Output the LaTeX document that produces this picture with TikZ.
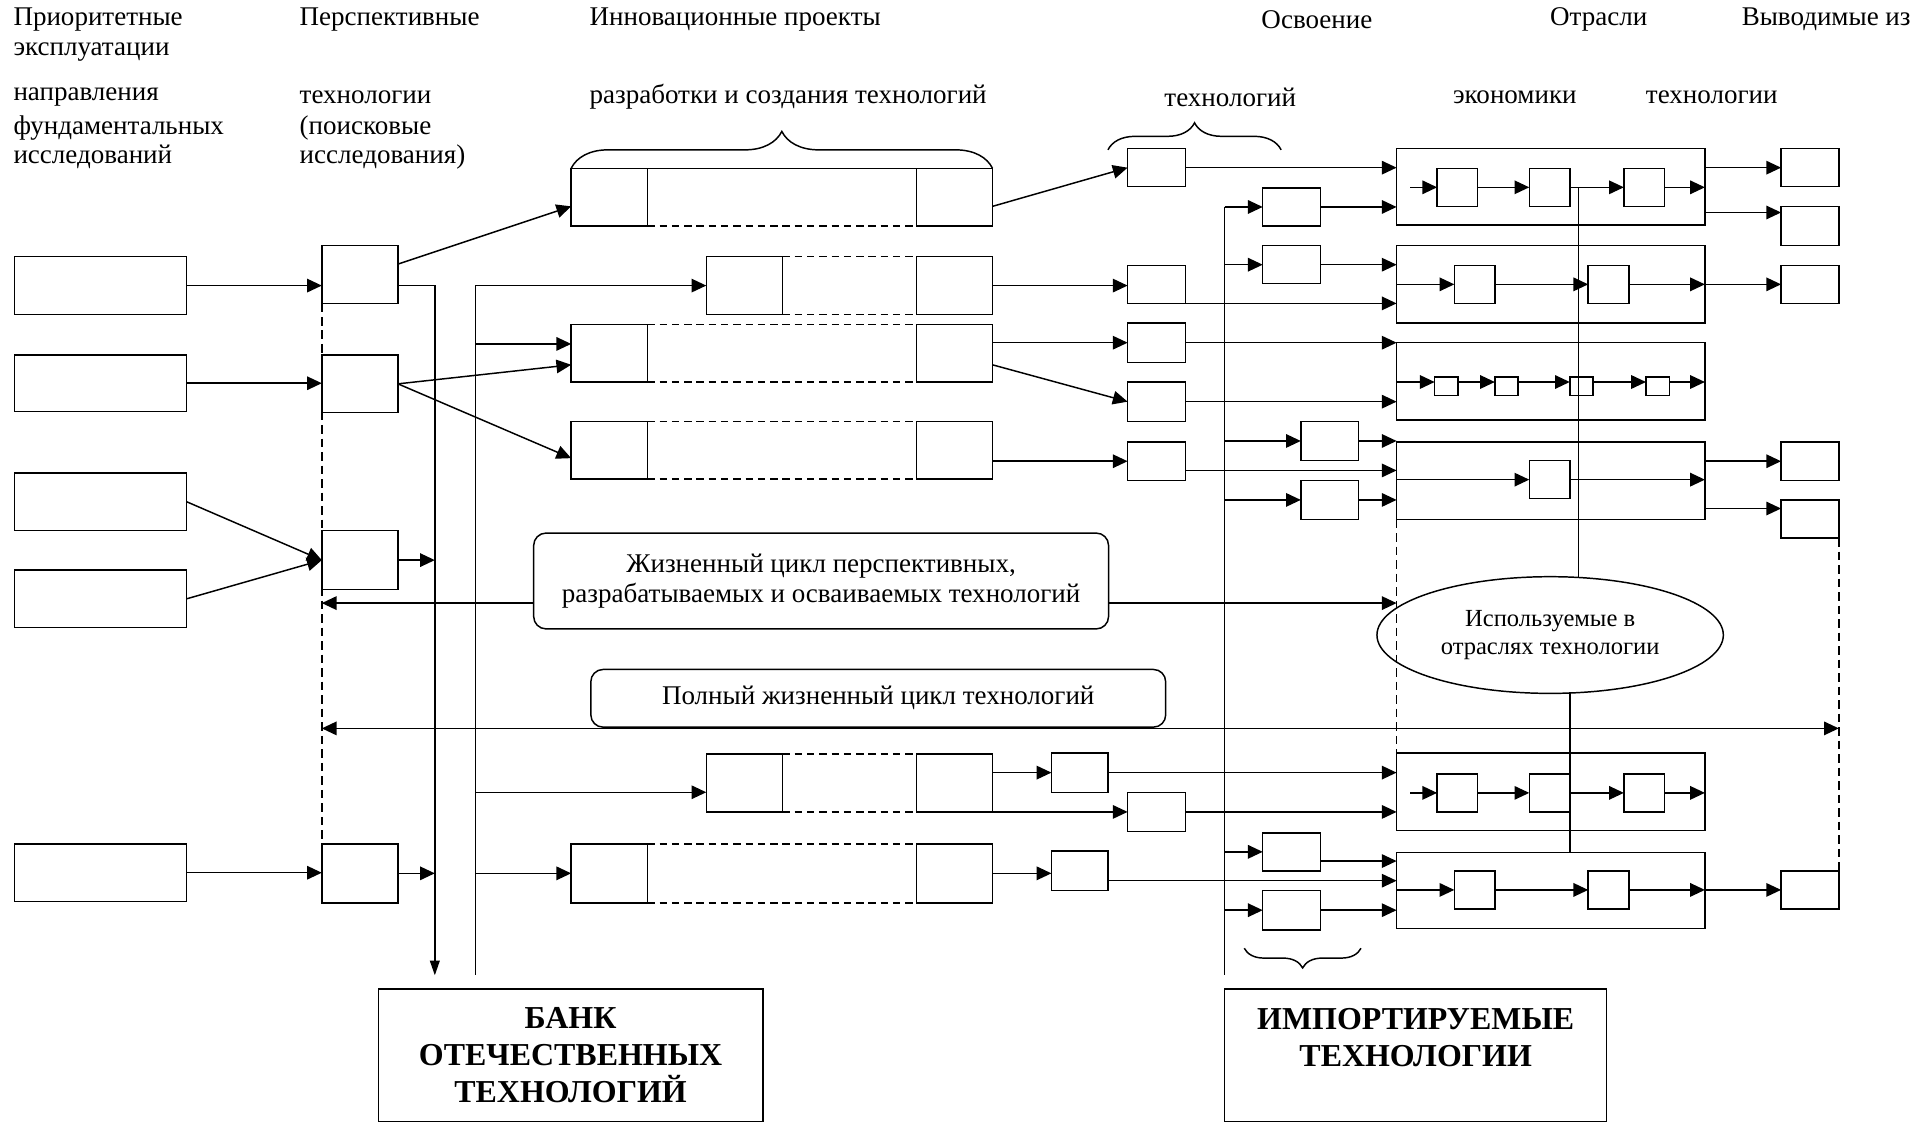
\documentclass[tikz,border=0pt]{standalone}
\usepackage{fontspec}
\setmainfont{Liberation Serif}
\usetikzlibrary{arrows.meta,decorations.pathreplacing,shapes.geometric}
\newcommand\bx[5]{\node[bx,minimum width={(#4-#2)*0.5pt},minimum height={(#5-#3)*0.5pt}] (#1) at ({(#2+#4)/2},{(#3+#5)/2}) {};}
\begin{document}
\begin{tikzpicture}[x=0.5pt,y=-0.5pt,
  every node/.style={inner sep=0pt,outer sep=0pt},
  bx/.style={draw,line width=0.6pt},
  ln/.style={line width=0.6pt},
  arr/.style={ln,-{Triangle[length=6pt,width=5.5pt]}},
  dsh/.style={ln,dash pattern=on 3pt off 2pt},
  dshv/.style={ln,dash pattern=on 3.5pt off 2pt},
  hd/.style={anchor=west,font=\fontsize{11}{13}\selectfont},
  rbox/.style={draw,line width=0.6pt,rounded corners=5pt,align=center,font=\fontsize{11}{12.5}\selectfont},
  bigbox/.style={draw,line width=0.6pt},
  bigtxt/.style={align=center,font=\fontsize{13}{15}\selectfont\bfseries},
  brc/.style={ln,decorate,decoration={brace,amplitude=#1}},
]
\useasboundingbox (0,0) rectangle (1568,914);

% headers
\node[hd] (t1) at (11,16) {Приоритетные};
\node[hd] (t2) at (11,42) {эксплуатации};
\node[hd] (t3) at (11,79) {направления};
\node[hd] (t4) at (11,104) {фундаментальных};
\node[hd] (t5) at (11,128) {исследований};
\node[hd] (t6) at (244,16) {Перспективные};
\node[hd] (t7) at (244,79) {технологии};
\node[hd] (t8) at (244,104) {(поисковые};
\node[hd] (t9) at (244,128) {исследования)};
\node[hd] (t10) at (480,16) {Инновационные проекты};
\node[hd] (t11) at (480,79) {разработки и создания технологий};
\node[hd] (t12) at (1027,16) {Освоение};
\node[hd] (t13) at (948,79) {технологий};
\node[hd] (t14) at (1262,16) {Отрасли};
\node[hd] (t15) at (1183,79) {экономики};
\node[hd] (t16) at (1418,16) {Выводимые из};
\node[hd] (t17) at (1340,79) {технологии};

% left boxes
\bx{L1}{12}{209}{152}{256}
\bx{L2}{12}{289}{152}{335}
\bx{L3}{12}{385}{152}{432}
\bx{L4}{12}{464}{152}{511}
\bx{L5}{12}{687}{152}{734}
% perspective
\bx{P1}{262}{200}{324}{247}
\bx{P2}{262}{289}{324}{336}
\bx{P3}{262}{432}{324}{480}
\bx{P4}{262}{687}{324}{735}
\draw[dshv] (P1.south west) -- (P4.north west);

\draw[arr] (L1.east) -- (P1.west |- L1.east);
\draw[arr] (L2.east) -- (P2.west |- L2.east);
\draw[arr] (L3.east) -- (P3.west);
\draw[arr] (L4.east) -- (P3.west);
\draw[arr] (L5.east) -- (P4.west |- L5.east);

% bank lines
\coordinate (bk1) at (354,794);
\coordinate (bk2t) at (387,232.5);
\coordinate (bk2) at (387,794);
\draw[ln,-{Triangle[length=6pt,width=4pt]}] (P1.east |- L1.east) -| (bk1);
\draw[arr] (P3.east) -- (P3.east -| bk1);
\draw[arr] (P4.east) -- (P4.east -| bk1);
\draw[ln] (bk2t) -- (bk2);

% innovation projects
\bx{I1a}{465}{137}{527}{184} \bx{I1b}{746}{137}{808}{184}
\draw[ln] (I1a.north east) -- (I1b.north west);
\draw[dsh] (I1a.south east) -- (I1b.south west);
\draw[brc=15pt] (I1a.north west) -- (I1b.north east);
\bx{Iaa}{575}{209}{637}{256} \bx{Iab}{746}{209}{808}{256}
\draw[dsh] (Iaa.north east) -- (Iab.north west);
\draw[dsh] (Iaa.south east) -- (Iab.south west);
\bx{I2a}{465}{264}{527}{311} \bx{I2b}{746}{264}{808}{311}
\draw[dsh] (I2a.north east) -- (I2b.north west);
\draw[dsh] (I2a.south east) -- (I2b.south west);
\bx{I3a}{465}{343}{527}{390} \bx{I3b}{746}{343}{808}{390}
\draw[dsh] (I3a.north east) -- (I3b.north west);
\draw[dsh] (I3a.south east) -- (I3b.south west);
\bx{I5a}{575}{614}{637}{661} \bx{I5b}{746}{614}{808}{661}
\draw[dsh] (I5a.north east) -- (I5b.north west);
\draw[dsh] (I5a.south east) -- (I5b.south west);
\bx{I6a}{465}{687}{527}{735} \bx{I6b}{746}{687}{808}{735}
\draw[dsh] (I6a.north east) -- (I6b.north west);
\draw[dsh] (I6a.south east) -- (I6b.south west);

\draw[arr] ([yshift=4.25pt]P1.east) -- ([yshift=-3.75pt]I1a.west);
\draw[arr] (bk2t) -- (Iaa.west |- bk2t);
\coordinate (v1) at (387,280);
\draw[arr] (v1) -- (I2a.west |- v1);
\draw[arr] (P2.east) -- ([yshift=-4.75pt]I2a.west);
\draw[arr] (P2.east) -- ([yshift=-3.25pt]I3a.west);
\coordinate (v2) at (387,645);
\draw[arr] (v2) -- (I5a.west |- v2);
\coordinate (v3) at (387,711);
\draw[arr] (v3) -- (I6a.west |- v3);

% mastering boxes
\bx{M1}{918}{121}{965}{152}
\bx{M2}{918}{216}{965}{247}
\bx{M3}{918}{263}{965}{295}
\bx{M4}{918}{311}{965}{343}
\bx{M5}{918}{360}{965}{391}
\bx{M6}{918}{645}{965}{677}
\bx{N1}{856}{613}{902}{645}
\bx{N2}{856}{693}{902}{725}
\coordinate (ob1) at (902,122); \coordinate (ob2) at (1043,122);
\draw[brc=11pt] (ob1) -- (ob2);

\draw[arr] ([yshift=-3.75pt]I1b.east) -- (M1.west);
\draw[arr] (Iab.east) -- (M2.west |- Iab.east);
\draw[arr] (I2b.east |- M3.west) -- (M3.west);
\draw[arr] ([yshift=-4.75pt]I2b.east) -- (M4.west);
\draw[arr] (I3b.east |- M5.west) -- (M5.west);
\draw[arr] (I5b.east |- N1.west) -- (N1.west);
\draw[arr] (I5b.south east) -- (M6.west |- I5b.south east);
\draw[arr] (I6b.east) -- (N2.west |- I6b.east);

% import line
\coordinate (imt) at (997,168.5);
\coordinate (imb) at (997,794);
\draw[ln] (imt) -- (imb);
\bx{K1}{1028}{153}{1075}{184}
\bx{K2}{1028}{200}{1075}{231}
\bx{K3}{1059}{343}{1106}{375}
\bx{K4}{1059}{391}{1106}{423}
\bx{K5}{1028}{678}{1075}{709}
\bx{K6}{1028}{725}{1075}{757}
\draw[arr] (imt) -- (K1.west);
\draw[arr] (K2.west -| imt) -- (K2.west);
\draw[arr] (K3.west -| imt) -- (K3.west);
\draw[arr] (K4.west -| imt) -- (K4.west);
\draw[arr] (K5.west -| imt) -- (K5.west);
\draw[arr] (K6.west -| imt) -- (K6.west);
\coordinate (bb1) at (1108,772); \coordinate (bb2) at (1013,772);
\draw[brc=8pt] (bb1) -- (bb2);

% sectors
\bx{S1}{1137}{121}{1388}{183}
\bx{S2}{1137}{200}{1388}{263}
\bx{S3}{1137}{279}{1388}{342}
\bx{S4}{1137}{360}{1388}{423}
\bx{S5}{1137}{613}{1388}{676}
\bx{S6}{1137}{694}{1388}{756}

\draw[arr] (M1.east) -- (S1.west |- M1.east);
\draw[arr] (K1.east) -- (S1.west |- K1.east);
\draw[arr] (K2.east) -- (S2.west |- K2.east);
\draw[arr] (M2.south east) -- (S2.west |- M2.south east);
\draw[arr] (M3.east) -- (S3.west |- M3.east);
\draw[arr] (M4.east) -- (S3.west |- M4.east);
\draw[arr] (K3.east) -- (S4.west |- K3.east);
\coordinate (m5o) at ([yshift=-3.75pt]M5.east);
\draw[arr] (m5o) -- (S4.west |- m5o);
\draw[arr] (K4.east) -- (S4.west |- K4.east);
\draw[arr] (N1.east) -- (S5.west |- N1.east);
\draw[arr] (M6.east) -- (S5.west |- M6.east);
\coordinate (k5o) at ([yshift=-3.75pt]K5.east);
\draw[arr] (k5o) -- (S6.west |- k5o);
\coordinate (n2o) at ([yshift=-4pt]N2.east);
\draw[arr] (n2o) -- (S6.west |- n2o);
\draw[arr] (K6.east) -- (S6.west |- K6.east);

% internals S1
\bx{B1}{1170}{137}{1203}{168}
\bx{B2}{1245}{137}{1278}{168}
\bx{B3}{1322}{137}{1355}{168}
\coordinate (s1i) at (1148,152.5);
\draw[arr] (s1i) -- (B1.west);
\draw[arr] (B1.east) -- (B2.west);
\draw[arr] (B2.east) -- (B3.west);
\draw[arr] (B3.east) -- (S1.east |- B3.east);
% S2
\bx{C1}{1184}{216}{1217}{247}
\bx{C2}{1293}{216}{1326}{247}
\draw[arr] (S2.west |- C1.west) -- (C1.west);
\draw[arr] (C1.east) -- (C2.west);
\draw[arr] (C2.east) -- (S2.east |- C2.east);
% S3
\bx{D1}{1168}{307}{1187}{322}
\bx{D2}{1217}{307}{1236}{322}
\bx{D3}{1278}{307}{1297}{322}
\bx{D4}{1340}{307}{1359}{322}
\coordinate (drow) at (1137,311);
\draw[arr] (drow) -- (D1.west |- drow);
\draw[arr] (D1.east |- drow) -- (D2.west |- drow);
\draw[arr] (D2.east |- drow) -- (D3.west |- drow);
\draw[arr] (D3.east |- drow) -- (D4.west |- drow);
\draw[arr] (D4.east |- drow) -- (S3.east |- drow);
% S4
\bx{F1}{1245}{375}{1278}{406}
\draw[arr] (S4.west |- F1.west) -- (F1.west);
\draw[arr] (F1.east) -- (S4.east |- F1.east);
% S5
\bx{G1}{1170}{630}{1203}{661}
\bx{G2}{1245}{630}{1278}{661}
\bx{G3}{1322}{630}{1355}{661}
\coordinate (s5i) at (1148,645.5);
\draw[arr] (s5i) -- (G1.west);
\draw[arr] (G1.east) -- (G2.west);
\draw[arr] (G2.east) -- (G3.west);
\draw[arr] (G3.east) -- (S5.east |- G3.east);
% S6
\bx{H1}{1184}{709}{1217}{740}
\bx{H2}{1293}{709}{1326}{740}
\draw[arr] (S6.west |- H1.west) -- (H1.west);
\draw[arr] (H1.east) -- (H2.west);
\draw[arr] (H2.east) -- (S6.east |- H2.east);

% outputs
\bx{E1}{1450}{121}{1497}{152}
\bx{E2}{1450}{168}{1497}{200}
\bx{E3}{1450}{216}{1497}{247}
\bx{E4}{1450}{360}{1497}{391}
\bx{E5}{1450}{407}{1497}{438}
\bx{E6}{1450}{709}{1497}{740}
\draw[arr] (S1.east |- E1.west) -- (E1.west);
\coordinate (e2i) at (1388,173);
\draw[arr] (e2i) -- (E2.west |- e2i);
\draw[arr] (S2.east |- E3.west) -- (E3.west);
\draw[arr] (S4.east |- E4.west) -- (E4.west);
\coordinate (e5i) at (1388,414);
\draw[arr] (e5i) -- (E5.west |- e5i);
\draw[arr] (S6.east |- E6.west) -- (E6.west);

\draw[dshv] (S4.south west) -- (S5.north west);
\draw[dshv] (E5.south east) -- (E6.north east);

% ellipse
\node[draw,ellipse,line width=0.6pt,minimum width=141pt,minimum height=47.5pt,align=center,font=\fontsize{10}{11.5}\selectfont] (U) at (1262,517) {Используемые в\\отраслях технологии};
\coordinate (vtop) at (1285,152.5);
\draw[ln] (vtop) -- (vtop |- U.north);
\coordinate (ub) at (1278,563.5);
\draw[ln] (ub) -- (ub |- S6.north);

% lifecycle boxes
\node[rbox,minimum width=234pt,minimum height=39pt] (R1) at (668.5,473) {Жизненный цикл перспективных,\\разрабатываемых и осваиваемых технологий};
\coordinate (la) at (262,491);
\coordinate (ra) at (1137,491);
\draw[arr] (R1.west |- la) -- (la);
\draw[arr] (R1.east |- ra) -- (ra);
\node[rbox,minimum width=234pt,minimum height=23.5pt] (R2) at (715,568.5) {Полный жизненный цикл технологий};
\coordinate (da1) at (262,593);
\coordinate (da2) at (1497,593);
\draw[ln,{Triangle[length=6pt,width=5.5pt]}-{Triangle[length=6pt,width=5.5pt]}] (da1) -- (da2);

% bottom boxes
\node[bigbox,minimum width=156.5pt,minimum height=54pt] (BANK) at (464.5,859) {};
\node[bigtxt] (BANKt) at (464.5,859) {БАНК\\ОТЕЧЕСТВЕННЫХ\\ТЕХНОЛОГИЙ};
\node[bigbox,minimum width=155.5pt,minimum height=54pt] (IMP) at (1152.5,859) {};
\node[bigtxt] (IMPt) at (1152.5,845) {ИМПОРТИРУЕМЫЕ\\ТЕХНОЛОГИИ};
\end{tikzpicture}
\end{document}
